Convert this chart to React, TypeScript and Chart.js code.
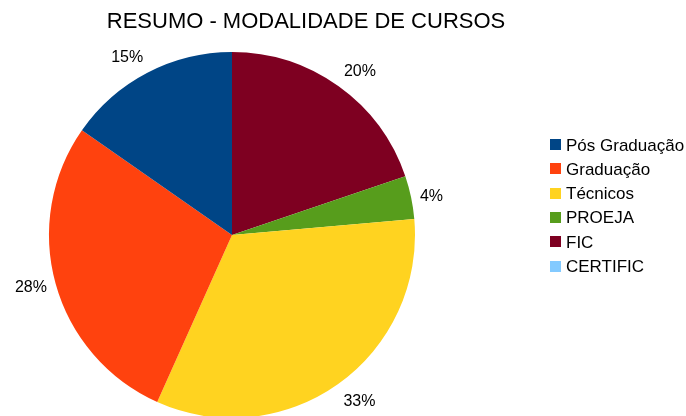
import React, { useEffect, useRef } from "react";
import { Chart, registerables } from "chart.js";

Chart.register(...registerables);

const TITLE = "RESUMO - MODALIDADE DE CURSOS";
const categories = ["Pós Graduação", "Graduação", "Técnicos", "PROEJA", "FIC", "CERTIFIC"];
const values = [15.3, 28.0, 33.1, 3.8, 19.8, 0];
const colors = ["#004586", "#ff420e", "#ffd320", "#579d1c", "#7e0021", "#83caff"];

const FONT = "'Liberation Sans', Arial, sans-serif";

const labelPlugin = {
  id: "pctLabels",
  afterDatasetsDraw(chart: any) {
    const ctx = chart.ctx;
    const meta = chart.getDatasetMeta(0);
    const data = chart.data.datasets[0].data as number[];
    const total = data.reduce((a: number, b: number) => a + b, 0);
    ctx.save();
    ctx.font = `16px ${FONT}`;
    ctx.fillStyle = "#000";
    ctx.textAlign = "center";
    ctx.textBaseline = "alphabetic";
    meta.data.forEach((arc: any, i: number) => {
      const v = data[i];
      if (!v) return;
      const txt = Math.round((v / total) * 100) + "%";
      const mid = (arc.startAngle + arc.endAngle) / 2;
      const ux = Math.cos(mid);
      const uy = Math.sin(mid);
      const R = arc.outerRadius + 9;
      const ax = arc.x + ux * R;
      const ay = arc.y + uy * R;
      const w = ctx.measureText(txt).width;
      const lim = Math.sin(Math.PI / 8);
      const dx = Math.abs(ux) < lim ? 0 : Math.sign(ux) * (w / 2);
      const dy = Math.abs(uy) < lim ? 0 : Math.sign(uy) * 8.5;
      const cx = ax + dx;
      const cy = ay + dy;
      ctx.fillText(txt, cx, cy + 5.7);
    });
    ctx.restore();
  },
};

const decorPlugin = {
  id: "decor",
  afterDraw(chart: any) {
    const ctx = chart.ctx;
    ctx.save();
    ctx.fillStyle = "#000";
    ctx.font = `22px ${FONT}`;
    ctx.textAlign = "center";
    ctx.textBaseline = "alphabetic";
    ctx.fillText(TITLE, 306, 28);
    // legend
    ctx.font = `17px ${FONT}`;
    ctx.textAlign = "left";
    categories.forEach((c, i) => {
      const cy = 144.5 + i * 24.3;
      ctx.fillStyle = colors[i];
      ctx.fillRect(550, Math.round(cy - 5.5), 11, 11);
      ctx.fillStyle = "#000";
      ctx.fillText(c, 566, cy + 6);
    });
    ctx.restore();
  },
};

export default function App() {
  const ref = useRef<HTMLCanvasElement>(null);
  useEffect(() => {
    if (!ref.current) return;
    const chart = new Chart(ref.current, {
      type: "pie",
      data: {
        labels: [...categories].reverse(),
        datasets: [
          {
            data: [...values].reverse(),
            backgroundColor: [...colors].reverse(),
            borderWidth: 0,
            clip: false as any,
          } as any,
        ],
      },
      options: {
        responsive: false,
        animation: false,
        devicePixelRatio: 1,
        radius: 183,
        layout: { padding: { left: 49, right: 271, top: 54, bottom: 0 } },
        plugins: {
          legend: { display: false },
          title: { display: false },
          tooltip: { enabled: false },
        },
      } as any,
      plugins: [labelPlugin, decorPlugin],
    });
    return () => chart.destroy();
  }, []);
  return (
    <div style={{ position: "fixed", left: 0, top: 0, width: 686, height: 416, background: "#fff" }}>
      <canvas ref={ref} width={686} height={416} />
    </div>
  );
}
